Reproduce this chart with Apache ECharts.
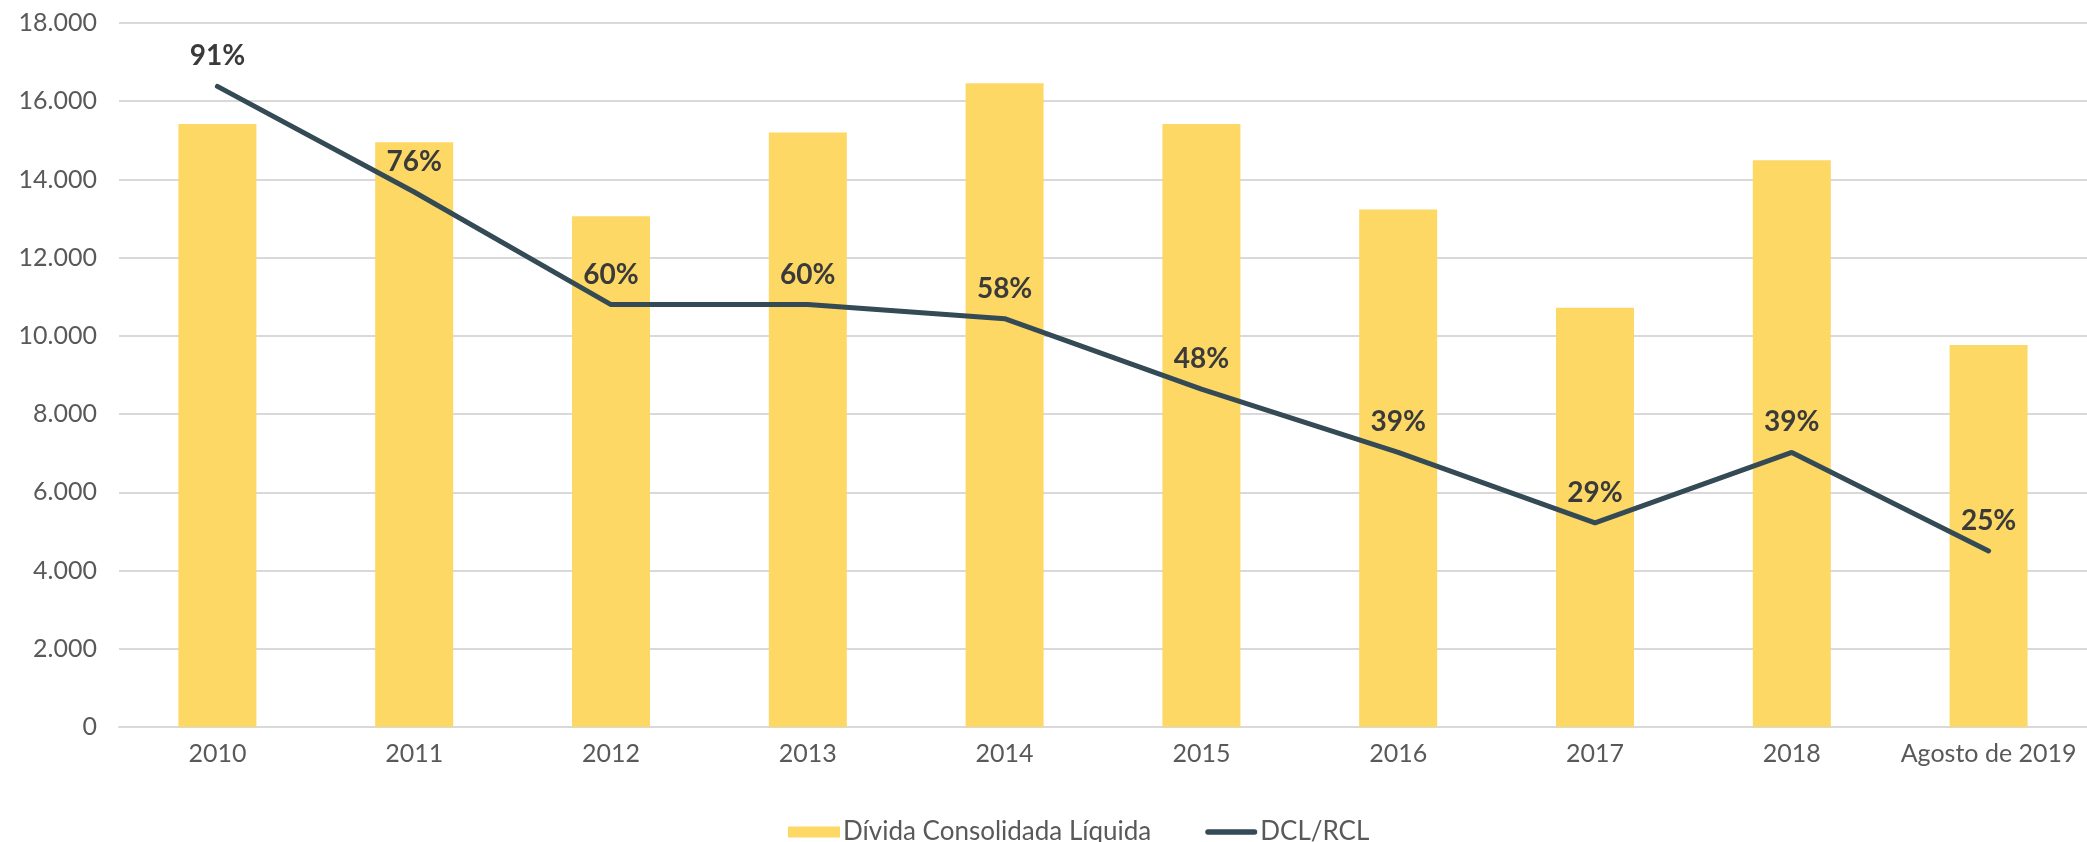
<!DOCTYPE html>
<html>
<head>
<meta charset="utf-8">
<script src="https://cdn.jsdelivr.net/npm/echarts@6/dist/echarts.min.js"></script>
<style>
html,body{margin:0;padding:0;background:#fff;}
#chart{width:2087px;height:842px;}
</style>
</head>
<body>
<div id="chart"></div>
<script>
const categories = ['2010','2011','2012','2013','2014','2015','2016','2017','2018','Agosto de 2019'];
const dividaConsolidada = [15420, 14950, 13060, 15200, 16460, 15420, 13230, 10720, 14490, 9770];
const dclRcl = [0.91, 0.76, 0.60, 0.60, 0.58, 0.48, 0.39, 0.29, 0.39, 0.25];
const yTicks = [0, 2000, 4000, 6000, 8000, 10000, 12000, 14000, 16000, 18000];

const chart = echarts.init(document.getElementById('chart'));
const fmt = v => String(v).replace(/\B(?=(\d{3})+(?!\d))/g, '.');
chart.setOption({
  animation: false,
  grid: { left: 119, right: -14, top: 23, bottom: 115 },
  legend: {
    left: 783, top: 814,
    itemWidth: 52, itemHeight: 11, itemGap: 54,
    textStyle: { fontFamily: 'Lato, sans-serif', fontSize: 26, color: '#595959', padding: [0,0,0,-2] },
    data: [
      { name: 'Dívida Consolidada Líquida', icon: 'rect' },
      { name: 'DCL/RCL', icon: 'path://M3,0 L54,0 A3,3 0 0 1 54,6 L3,6 A3,3 0 0 1 3,0 Z' }
    ]
  },
  xAxis: {
    type: 'category', data: categories,
    axisLine: { lineStyle: { color: '#d9d9d9', width: 2 } },
    axisTick: { show: false },
    axisLabel: { interval: 0, color: '#595959', fontFamily: 'Lato, sans-serif', fontSize: 25, margin: 14 }
  },
  yAxis: [{
    type: 'value', min: yTicks[0], max: yTicks[yTicks.length-1], interval: 2000,
    axisLine: { show: false }, axisTick: { show: false },
    splitLine: { lineStyle: { color: '#d9d9d9', width: 2 } },
    axisLabel: { color: '#595959', fontFamily: 'Lato, sans-serif', fontSize: 25, margin: 22, formatter: fmt }
  }, {
    type: 'value', min: 0, max: 1, show: false, splitLine: { show: false }
  }],
  series: [{
    name: 'Dívida Consolidada Líquida', type: 'bar', data: dividaConsolidada,
    barWidth: 78, itemStyle: { color: '#FDD865' }
  }, {
    name: 'DCL/RCL', type: 'line', yAxisIndex: 1, data: dclRcl,
    symbol: 'circle', symbolSize: 0, showSymbol: true,
    lineStyle: { color: '#344a55', width: 5, cap: 'round' },
    itemStyle: { color: '#344a55' },
    label: {
      show: true, position: 'top', distance: 16,
      formatter: p => Math.round(p.value * 100) + '%',
      fontFamily: 'Lato, sans-serif', fontWeight: 'bold', fontSize: 28, color: '#3a3a3a'
    }
  }]
});
</script>
</body>
</html>
